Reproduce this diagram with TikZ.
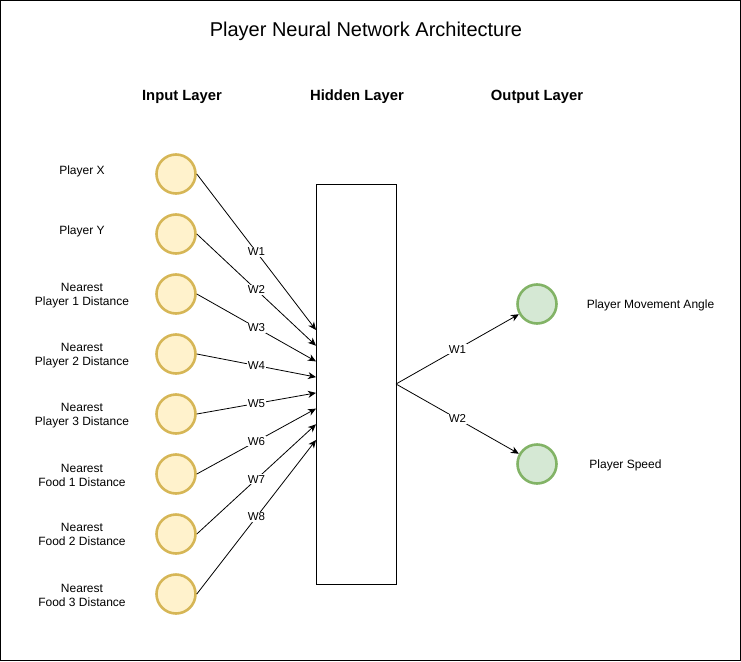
\documentclass[tikz,border=0pt]{standalone}
\usepackage{fontspec}
\setmainfont{Liberation Sans}
\usetikzlibrary{arrows.meta}
\definecolor{inFill}{HTML}{FFF2CC}
\definecolor{inDraw}{HTML}{D6B656}
\definecolor{outFill}{HTML}{D5E8D4}
\definecolor{outDraw}{HTML}{82B366}
\begin{document}
\begin{tikzpicture}[x=1pt,y=-1pt,
  innode/.style={circle,draw=inDraw,fill=inFill,line width=2.6pt,minimum size=39pt,inner sep=0pt},
  outnode/.style={circle,draw=outDraw,fill=outFill,line width=2.6pt,minimum size=39pt,inner sep=0pt},
  hidbox/.style={draw=black,line width=1pt,fill=white,minimum width=80pt,minimum height=400pt,inner sep=0pt},
  lbl/.style={font=\fontsize{12}{14.5}\selectfont,align=center,inner sep=0pt},
  head/.style={font=\fontsize{14.8}{17}\selectfont\bfseries,inner sep=0pt},
  wlbl/.style={font=\fontsize{11.5}{13}\selectfont,fill=white,inner sep=1pt,pos=0.5},
  conn/.style={line width=0.8pt,-{Stealth[length=8pt,width=7pt,inset=2.5pt]}}
]
\useasboundingbox (0,0) rectangle (741,661);
\draw[line width=1pt] (0.5,0.5) rectangle (740.5,660.5);

\node[font=\fontsize{20}{24}\selectfont,inner sep=0pt] (title) at (366,31.5) {Player Neural Network Architecture};
\node[head] (hin) at (182,96.5) {Input Layer};
\node[head] (hhid) at (357,96.5) {Hidden Layer};
\node[head] (hout) at (537,96.5) {Output Layer};

\node[hidbox] (h) at (356,384) {};

\foreach \i/\y in {1/174,2/234,3/294,4/354,5/414,6/474,7/534,8/594}{
  \node[innode] (i\i) at (176,\y) {};
}
\node[lbl] (l1) at (82,171.5) {Player X};
\node[lbl] (l2) at (82,231.5) {Player Y};
\node[lbl] (l3) at (82,295.5) {Nearest\\Player 1 Distance};
\node[lbl] (l4) at (82,355.5) {Nearest\\Player 2 Distance};
\node[lbl] (l5) at (82,415.5) {Nearest\\Player 3 Distance};
\node[lbl] (l6) at (82,475.5) {Nearest\\Food 1 Distance};
\node[lbl] (l7) at (82,534.5) {Nearest\\Food 2 Distance};
\node[lbl] (l8) at (82,595.5) {Nearest\\Food 3 Distance};

\foreach \i/\y in {1/330,2/345.7,3/361.4,4/377.1,5/392.9,6/408.6,7/424.3,8/440}{
  \coordinate (t\i) at (316,\y);
  \draw[conn] (i\i.east) -- node[wlbl] {W\i} (t\i);
}

\node[outnode] (o1) at (537,304) {};
\node[outnode] (o2) at (537,464) {};
\node[lbl] (ol1) at (650.5,305.5) {Player Movement Angle};
\node[lbl] (ol2) at (625.5,465.5) {Player Speed};

\coordinate (hs) at (396,384);
\draw[conn] (hs) -- node[wlbl] {W1} (o1);
\draw[conn] (hs) -- node[wlbl] {W2} (o2);
\end{tikzpicture}
\end{document}
